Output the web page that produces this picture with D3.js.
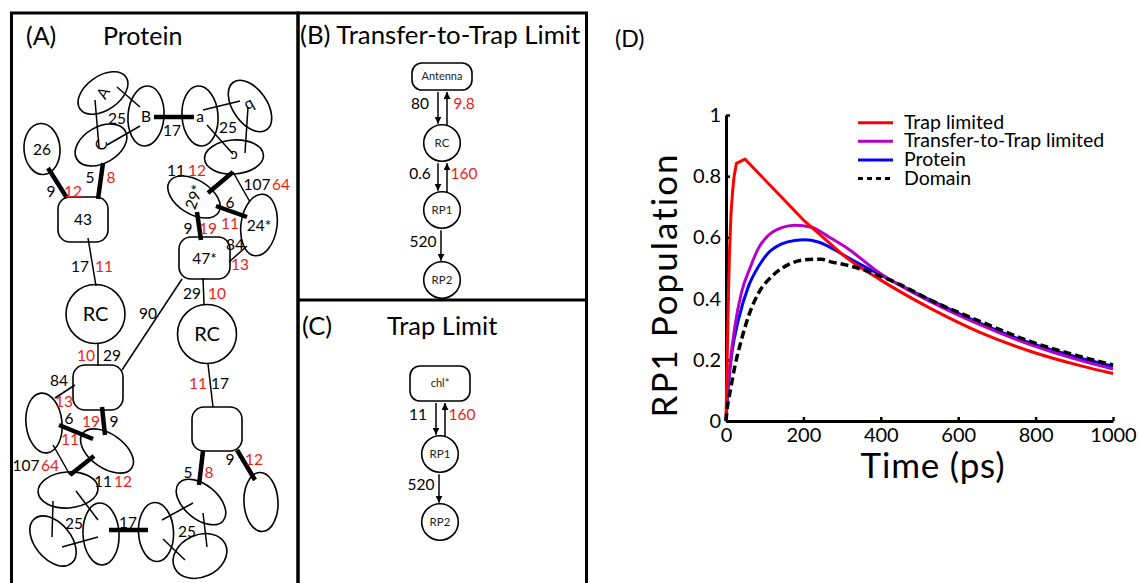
<!DOCTYPE html>
<html>
<head>
<meta charset="utf-8">
<script src="https://cdn.jsdelivr.net/npm/d3@7"></script>
<style>
  body { margin: 0; background: #fff; }
  svg { display: block; }
  text { font-family: Lato, "Open Sans", sans-serif; }
</style>
</head>
<body>
<div id="fig"></div>
<script>
// ---- panel D data ----
const timeTicks = [0, 200, 400, 600, 800, 1000];
const popTicks = [0, 0.2, 0.4, 0.6, 0.8, 1];
const seriesNames = ["Trap limited", "Transfer-to-Trap limited", "Protein", "Domain"];

// [time (ps), RP1 population]
const trapLimited = [[0,0],[3,0.2],[6,0.4],[9,0.55],[13,0.68],[17,0.75],[21,0.8],[27,0.842],[49,0.856],
  [204,0.652],[269,0.58],[307,0.538],[398,0.462],[527,0.369],[656,0.29],
  [786,0.228],[915,0.181],[1000,0.155]];
const transferToTrap = [[0,0],[4,0.1],[10,0.18],[23,0.31],[40,0.42],[62,0.5],[84,0.565],[109,0.606],
  [144,0.632],[178,0.64],[221,0.633],[264,0.603],[307,0.57],[398,0.483],[527,0.391],[656,0.315],
  [786,0.25],[915,0.198],[1000,0.17]];
const protein = [[0,0],[5,0.1],[15,0.22],[32,0.33],[58,0.44],[84,0.505],[109,0.549],[144,0.579],
  [178,0.59],[204,0.592],[238,0.585],[273,0.565],[307,0.54],[398,0.478],[527,0.396],[656,0.32],
  [786,0.255],[915,0.206],[1000,0.179]];
const domain = [[0,0],[4,0.05],[10,0.092],[23,0.179],[40,0.266],[58,0.342],[84,0.418],[118,0.472],
  [161,0.511],[204,0.527],[247,0.529],[269,0.521],[307,0.511],[355,0.494],[441,0.451],[527,0.396],
  [656,0.326],[786,0.26],[915,0.211],[1000,0.183]];

const seriesColors = ["#ff0000", "#b400c8", "#0000ff", "#000"];

// ---- kinetic schemes (B) and (C) ----
const schemeB = { nodes: ["Antenna", "RC", "RP1", "RP2"], fwd: ["80", "0.6", "520"], back: ["9.8", "160"] };
const schemeC = { nodes: ["chl*", "RP1", "RP2"], fwd: ["11", "520"], back: ["160"] };

const RED = "#ee1c1c";

const svg = d3.select("#fig").append("svg")
  .attr("width", 1139)
  .attr("height", 583);

svg.append("defs").append("marker")
  .attr("id", "arr")
  .attr("viewBox", "0 0 8 8")
  .attr("refX", 8).attr("refY", 4)
  .attr("markerWidth", 7).attr("markerHeight", 7)
  .attr("markerUnits", "userSpaceOnUse")
  .attr("orient", "auto")
  .append("path").attr("d", "M0,0L8,4L0,8z").attr("fill", "#000");

// frames
svg.append("rect").attr("x", 11.5).attr("y", 13).attr("width", 286.5).attr("height", 600)
  .attr("fill", "none").attr("stroke", "#000").attr("stroke-width", 3);
svg.append("rect").attr("x", 298).attr("y", 13).attr("width", 288.5).attr("height", 600)
  .attr("fill", "none").attr("stroke", "#000").attr("stroke-width", 3);
svg.append("line").attr("x1", 298).attr("x2", 586.5).attr("y1", 300).attr("y2", 300)
  .attr("stroke", "#000").attr("stroke-width", 3);

// ================= (A) Protein =================
const gA = svg.append("g");
gA.append("text").attr("x", 26).attr("y", 45).attr("font-size", 25).text("(A)");
gA.append("text").attr("x", 103).attr("y", 45).attr("font-size", 25).text("Protein");

// bonds: x1,y1,x2,y2,thick
const bonds = [
  [95,100,99,147,0],[117,87,140,107,0],[107,145,140,126,0],[154,117,194,117,1],
  [203,110,240,101,0],[248,107,245,153,0],[207,125,233,154,0],
  [48,168,67,198,1],[103,163,98,199,1],[88,238,96,286,0],
  [233,172,208,193,1],[233,172,250,202,0],[216,206,247,217,1],[197,212,201,240,1],
  [247,246,229,262,0],[203,278,204,304,0],[182,279,122,370,0],
  [98,343,98,366,0],[75,385,55,398,0],[102,407,105,435,1],[59,425,93,439,1],
  [53,445,70,475,0],[94,456,70,475,1],
  [53,501,52,537,0],[76,491,98,520,0],[62,547,98,537,0],[109,530,148,530,1],
  [162,520,193,503,0],[203,513,207,547,0],[163,539,185,560,0],
  [208,364,213,407,0],[203,451,199,485,1],[237,450,255,480,1]
];
gA.selectAll("line.bond").data(bonds).join("line")
  .attr("class", "bond")
  .attr("x1", d => d[0]).attr("y1", d => d[1]).attr("x2", d => d[2]).attr("y2", d => d[3])
  .attr("stroke", "#000").attr("stroke-width", d => d[4] ? 4.5 : 1.5);

// ellipses: cx,cy,rx,ry,rot,label,labelRot
const ells = [
  [103,93,28,17,-35,"A",-60],[146,116,18,30,4,"B",0],[101,145,28,18,-30,"C",-70],
  [200,116,18,30,-4,"a",0],[250,106,29,17,55,"b",150],[234,157,29.5,17,-4,"c",180],
  [42,149,18,25.5,-4,"26",0],[194,197,29,17,32,"29*",-70],[259,225,18,31,8,"24*",0],
  [44,423,18,30,-6,"",0],[107,451,30,17,35,"",0],[68,490,30,18,-4,"",0],
  [53,541,29,18,50,"",0],[101,534,18,31,-3,"",0],[156,532,17.5,29.5,-3,"",0],
  [201,502,29,17,40,"",0],[200,556,28,21,-25,"",0],[261,502,17,29.5,-3,"",0]
];
const eg = gA.selectAll("g.ell").data(ells).join("g")
  .attr("class", "ell")
  .attr("transform", d => `translate(${d[0]},${d[1]})`);
eg.append("ellipse")
  .attr("rx", d => d[2]).attr("ry", d => d[3])
  .attr("transform", d => `rotate(${d[4]})`)
  .attr("fill", "none").attr("stroke", "#000").attr("stroke-width", 1.6);
eg.append("text")
  .attr("transform", d => `rotate(${d[6]})`)
  .attr("text-anchor", "middle").attr("dy", "0.36em")
  .attr("font-size", 15.5)
  .text(d => d[5]);

// rounded boxes: x,y,w,h,label
const boxes = [[58,197,50,45,"43"],[179,237,51,42,"47*"],[73,365,50,45,""],[192,407,50,44,""]];
const bg = gA.selectAll("g.box").data(boxes).join("g").attr("class", "box");
bg.append("rect")
  .attr("x", d => d[0]).attr("y", d => d[1]).attr("width", d => d[2]).attr("height", d => d[3])
  .attr("rx", 12).attr("fill", "none").attr("stroke", "#000").attr("stroke-width", 1.6);
bg.append("text")
  .attr("x", d => d[0] + d[2] / 2).attr("y", d => d[1] + d[3] / 2)
  .attr("text-anchor", "middle").attr("dy", "0.36em").attr("font-size", 15.5)
  .text(d => d[4]);

// reaction centres
const rcs = [[95.5,314,29.5],[207,334,29.5]];
const cg = gA.selectAll("g.rc").data(rcs).join("g").attr("class", "rc");
cg.append("circle").attr("cx", d => d[0]).attr("cy", d => d[1]).attr("r", d => d[2])
  .attr("fill", "none").attr("stroke", "#000").attr("stroke-width", 1.6);
cg.append("text").attr("x", d => d[0]).attr("y", d => d[1])
  .attr("text-anchor", "middle").attr("dy", "0.36em").attr("font-size", 20).text("RC");

// rate labels: x,y,text,red?
const rates = [
  [117,118,"25",0],[172,130,"17",0],[228,127,"25",0],
  [51,191,"9",0],[73,191,"12",1],[90,177,"5",0],[111,177,"8",1],
  [80,266,"17",0],[104,266,"11",1],
  [176,170,"11",0],[197,170,"12",1],[257,184,"107",0],[281,184,"64",1],
  [230,202,"6",0],[230,223,"11",1],[188,228,"9",0],[208,228,"19",1],
  [235,244,"84",0],[240,264,"13",1],[192,293,"29",0],[217,293,"10",1],
  [148,313,"90",0],[86,355,"10",1],[112,355,"29",0],
  [59,380,"84",0],[64,401,"13",1],[69,418,"6",0],[91,421,"19",1],[114,421,"9",0],[70,439,"11",1],
  [26,465,"107",0],[50,465,"64",1],[103,481,"11",0],[123,481,"12",1],
  [74,523,"25",0],[128,522,"17",0],[187,531,"25",0],
  [198,383,"11",1],[220,383,"17",0],[188,472,"5",0],[209,472,"8",1],[230,459,"9",0],[254,459,"12",1]
];
gA.selectAll("text.rate").data(rates).join("text")
  .attr("class", "rate")
  .attr("x", d => d[0]).attr("y", d => d[1])
  .attr("text-anchor", "middle").attr("dy", "0.36em").attr("font-size", 15.5)
  .attr("fill", d => d[3] ? RED : "#000")
  .text(d => d[2]);

// ================= (B) and (C) schemes =================
function drawScheme(g, scheme, cx, firstBox, rowYs) {
  // firstBox: [x,y,w,h]; rowYs: centres of the circles
  g.append("rect").attr("x", firstBox[0]).attr("y", firstBox[1])
    .attr("width", firstBox[2]).attr("height", firstBox[3]).attr("rx", 10)
    .attr("fill", "none").attr("stroke", "#000").attr("stroke-width", 1.6);
  g.append("text").attr("x", firstBox[0] + firstBox[2] / 2).attr("y", firstBox[1] + firstBox[3] / 2)
    .attr("text-anchor", "middle").attr("dy", "0.36em").attr("font-size", 11).attr("fill", "#222")
    .text(scheme.nodes[0]);
  const r = 18.3;
  rowYs.forEach((cy, i) => {
    g.append("circle").attr("cx", cx).attr("cy", cy).attr("r", r)
      .attr("fill", "none").attr("stroke", "#000").attr("stroke-width", 1.6);
    g.append("text").attr("x", cx).attr("y", cy).attr("text-anchor", "middle").attr("dy", "0.36em")
      .attr("font-size", 11.5).attr("fill", "#222").text(scheme.nodes[i + 1]);
  });
  const tops = [firstBox[1] + firstBox[3]].concat(rowYs.map(c => c + r));
  const bottoms = rowYs.map(c => c - r);
  scheme.fwd.forEach((lab, i) => {
    const y0 = tops[i] + 2, y1 = bottoms[i] - 1;
    const hasBack = i < scheme.back.length;
    const xd = hasBack ? cx - 4 : cx - 1;
    g.append("line").attr("x1", xd).attr("x2", xd).attr("y1", y0).attr("y2", y1)
      .attr("stroke", "#000").attr("stroke-width", 1.5).attr("marker-end", "url(#arr)");
    g.append("text").attr("x", xd - 18).attr("y", (y0 + y1) / 2)
      .attr("text-anchor", "middle").attr("dy", "0.1em").attr("font-size", 15.5).text(lab);
    if (hasBack) {
      const xu = cx + 5;
      g.append("line").attr("x1", xu).attr("x2", xu).attr("y1", y1 + 2).attr("y2", y0)
        .attr("stroke", "#000").attr("stroke-width", 1.5).attr("marker-end", "url(#arr)");
      g.append("text").attr("x", xu + 17).attr("y", (y0 + y1) / 2)
        .attr("text-anchor", "middle").attr("dy", "0.1em").attr("font-size", 15.5)
        .attr("fill", RED).text(scheme.back[i]);
    }
  });
}

const gB = svg.append("g");
gB.append("text").attr("x", 300).attr("y", 44).attr("font-size", 25.8).text("(B) Transfer-to-Trap Limit");
drawScheme(gB, schemeB, 442, [412, 63, 60, 27], [143, 210, 280]);

const gC = svg.append("g");
gC.append("text").attr("x", 302).attr("y", 335).attr("font-size", 25.5).text("(C)");
gC.append("text").attr("x", 387).attr("y", 335).attr("font-size", 25.5).text("Trap Limit");
drawScheme(gC, schemeC, 440, [410, 366, 60, 35], [454, 522]);

// ================= (D) RP1 population =================
const gD = svg.append("g");
gD.append("text").attr("x", 615).attr("y", 47).attr("font-size", 23).text("(D)");

const x = d3.scaleLinear().domain([0, 1000]).range([726, 1113]);
const y = d3.scaleLinear().domain([0, 1]).range([421, 115]);

const xAxis = gD.append("g").attr("transform", "translate(0,421)")
  .call(d3.axisBottom(x).tickValues(timeTicks).tickSizeInner(-4).tickSizeOuter(0).tickPadding(7)
    .tickFormat(d3.format("d")));
const yAxis = gD.append("g").attr("transform", "translate(726,0)")
  .call(d3.axisLeft(y).tickValues(popTicks).tickSizeInner(-4).tickSizeOuter(0).tickPadding(5)
    .tickFormat(d3.format("~g")));
[xAxis, yAxis].forEach(a => {
  a.select(".domain").attr("stroke-width", 3).attr("stroke", "#000");
  a.selectAll(".tick line").attr("stroke-width", 2.5).attr("stroke", "#000");
  a.selectAll(".tick text").attr("font-family", "'Liberation Sans', Arial, sans-serif")
    .attr("font-size", 20).attr("fill", "#000");
});

gD.append("text").attr("x", 933).attr("y", 478).attr("text-anchor", "middle")
  .attr("font-size", 35).attr("letter-spacing", 0.8).text("Time (ps)");
gD.append("text").attr("transform", "translate(677,285) rotate(-90)").attr("text-anchor", "middle")
  .attr("font-size", 35).attr("letter-spacing", 2).text("RP1 Population");

const smooth = d3.line().x(d => x(d[0])).y(d => y(d[1])).curve(d3.curveMonotoneX);
const straight = d3.line().x(d => x(d[0])).y(d => y(d[1]));
const allSeries = [trapLimited, transferToTrap, protein, domain];

// the trap-limited curve has a sharp corner near its peak and a straight fall
// afterwards, then a smooth tail: draw the head straight and the tail smooth
function trapPath(data) {
  const cut = data.findIndex(d => d[0] >= 204);
  return straight(data.slice(0, cut + 1)) + smooth(data.slice(cut)).replace(/^M/, "L");
}

// drawing order: Protein, Transfer-to-Trap, Trap limited, Domain
[2, 1, 0, 3].forEach(i => {
  gD.append("path").datum(allSeries[i])
    .attr("d", i === 0 ? trapPath : smooth)
    .attr("fill", "none")
    .attr("stroke", seriesColors[i])
    .attr("stroke-width", i === 3 ? 3.5 : 3)
    .attr("stroke-linejoin", "round")
    .attr("stroke-dasharray", i === 3 ? "8,4" : null);
});

const legend = gD.append("g");
seriesNames.forEach((name, i) => {
  const ly = 122.7 + i * 18.6;
  legend.append("line").attr("x1", 858).attr("x2", 893).attr("y1", ly).attr("y2", ly)
    .attr("stroke", seriesColors[i]).attr("stroke-width", 3)
    .attr("stroke-dasharray", i === 3 ? "5,4" : null);
  legend.append("text").attr("x", 904).attr("y", ly + 6).attr("font-size", 19.5).text(name);
});
</script>
</body>
</html>
